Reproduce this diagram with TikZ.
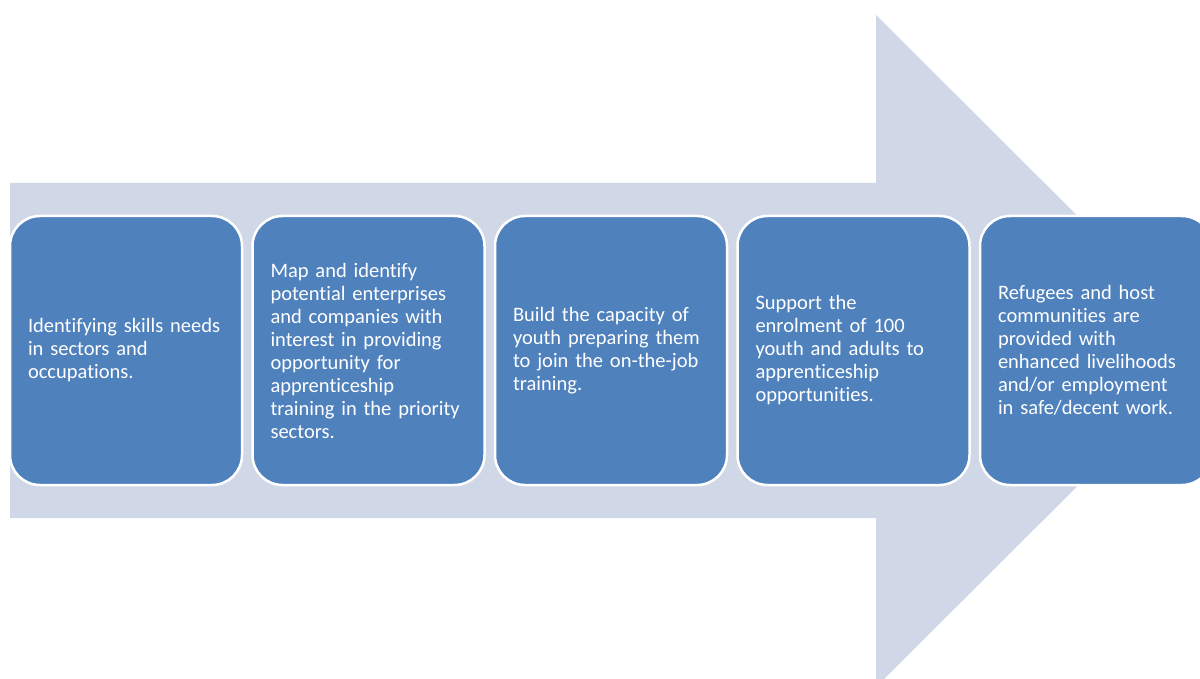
\documentclass[tikz,border=0pt]{standalone}
\usepackage{fontspec}
\setsansfont{Carlito}[Ligatures=NoCommon]
\usetikzlibrary{positioning}

\definecolor{arrowgrey}{HTML}{D0D8E8}
\definecolor{stepblue}{HTML}{4F81BD}

\tikzset{
  stepbox/.style={draw=white, line width=2.5pt, fill=stepblue, rounded corners=30pt,
    minimum width=232pt, minimum height=269pt, text width=196pt, inner xsep=18pt,
    align=left, text=white, font=\sffamily\fontsize{20.5}{23}\selectfont}
}

\begin{document}
\begin{tikzpicture}[x=1pt,y=-1pt]
    \useasboundingbox (0,0) rectangle (1200,679);
    \clip (0,0) rectangle (1200,679);
    % big arrow behind the steps
    \fill[arrowgrey] (10,183) -- (876,183) -- (876,15) -- (1213,351) -- (876,687) -- (876,518) -- (10,518) -- cycle;
    \node[stepbox] (b1) at (126,350.5) {Identifying skills needs\\in sectors and\\occupations.};
    \node[stepbox, right=8pt of b1] (b2) {Map and identify\\potential enterprises\\and companies with\\interest in providing\\opportunity for\\apprenticeship\\training in the priority\\sectors.};
    \node[stepbox, right=8pt of b2] (b3) {Build the capacity of\\youth preparing them\\to join the on-the-job\\training.};
    \node[stepbox, right=8pt of b3] (b4) {Support the\\enrolment of 100\\youth and adults to\\apprenticeship\\opportunities.};
    \node[stepbox, right=8pt of b4] (b5) {Refugees and host\\communities are\\provided with\\enhanced livelihoods\\and/or employment\\in safe/decent work.};
  \end{tikzpicture}
\end{document}
